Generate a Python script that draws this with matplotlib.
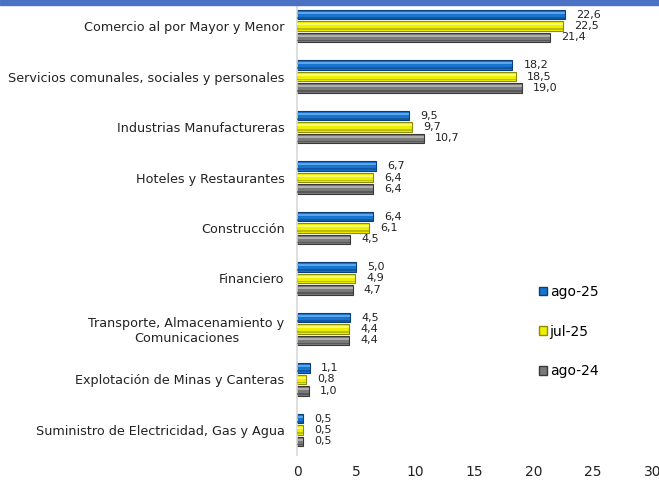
import numpy as np
import matplotlib.pyplot as plt
from matplotlib.patches import Patch, Rectangle

# sectores, de arriba hacia abajo
sectores = ['Comercio al por Mayor y Menor',
            'Servicios comunales, sociales y personales',
            'Industrias Manufactureras',
            'Hoteles y Restaurantes',
            'Construcción',
            'Financiero',
            'Transporte, Almacenamiento y\nComunicaciones',
            'Explotación de Minas y Canteras',
            'Suministro de Electricidad, Gas y Agua']

ago25 = [22.6, 18.2, 9.5, 6.7, 6.4, 5.0, 4.5, 1.1, 0.5]
jul25 = [22.5, 18.5, 9.7, 6.4, 6.1, 4.9, 4.4, 0.8, 0.5]
ago24 = [21.4, 19.0, 10.7, 6.4, 4.5, 4.7, 4.4, 1.0, 0.5]

series = [('ago-25', ago25, '#1874CD', '#0B3F7A', '#6FB2F0'),
          ('jul-25', jul25, '#EFEF00', '#8C8C00', '#FFFF8C'),
          ('ago-24', ago24, '#7A7A7A', '#383838', '#BDBDBD')]

plt.rcParams['font.family'] = ['DejaVu Sans']

fig = plt.figure(figsize=(6.59, 4.8), dpi=100)
ax = fig.add_axes([0.4507, 0.0516, 0.539, 0.9468])

# franja azul de arriba
fig.patches.append(Rectangle((0, 1 - 5 / 480), 1, 5 / 480, transform=fig.transFigure,
                             color='#4A72C4', zorder=0))

y = np.arange(len(sectores))
step = 0.225
h = 0.19

handles = []
for i, (name, vals, col, dark, light) in enumerate(series):
    pos = y + (i - 1) * step
    ax.barh(pos, vals, height=h, color=col, edgecolor=dark, linewidth=0.8, zorder=2)
    # brillo para dar efecto de bisel
    ax.barh(pos - h * 0.18, vals, height=h * 0.22, color=light, linewidth=0,
            alpha=0.8, zorder=3)
    ax.barh(pos + h * 0.32, vals, height=h * 0.18, color=dark, linewidth=0,
            alpha=0.5, zorder=3)
    for p, v in zip(pos, vals):
        ax.annotate(f'{v:.1f}'.replace('.', ','), (v, p), xytext=(8, 0),
                    textcoords='offset points', va='center', ha='left',
                    fontsize=8, color='#222222')
    handles.append(Patch(facecolor=col, edgecolor=dark, label=name))

ax.set_xlim(0, 30)
ax.set_ylim(len(sectores) - 0.5, -0.5)
ax.set_xticks(np.arange(0, 31, 5))
ax.set_yticks(y)
ax.set_yticklabels(sectores, fontsize=9.2, color='#222222', multialignment='center')
ax.tick_params(axis='y', length=0, pad=9)
ax.tick_params(axis='x', length=0, pad=7, labelsize=10, colors='#222222')

for s in ['top', 'right', 'bottom']:
    ax.spines[s].set_visible(False)
ax.spines['left'].set_color('#D9D9D9')
ax.spines['left'].set_linewidth(1.2)

ax.legend(handles=handles, loc='upper left', bbox_to_anchor=(0.68, 0.375),
          frameon=False, fontsize=10, handlelength=0.6, handleheight=0.6,
          handletextpad=0.2, labelspacing=1.85, borderpad=0, borderaxespad=0)

fig.savefig('out.png', dpi=100)
